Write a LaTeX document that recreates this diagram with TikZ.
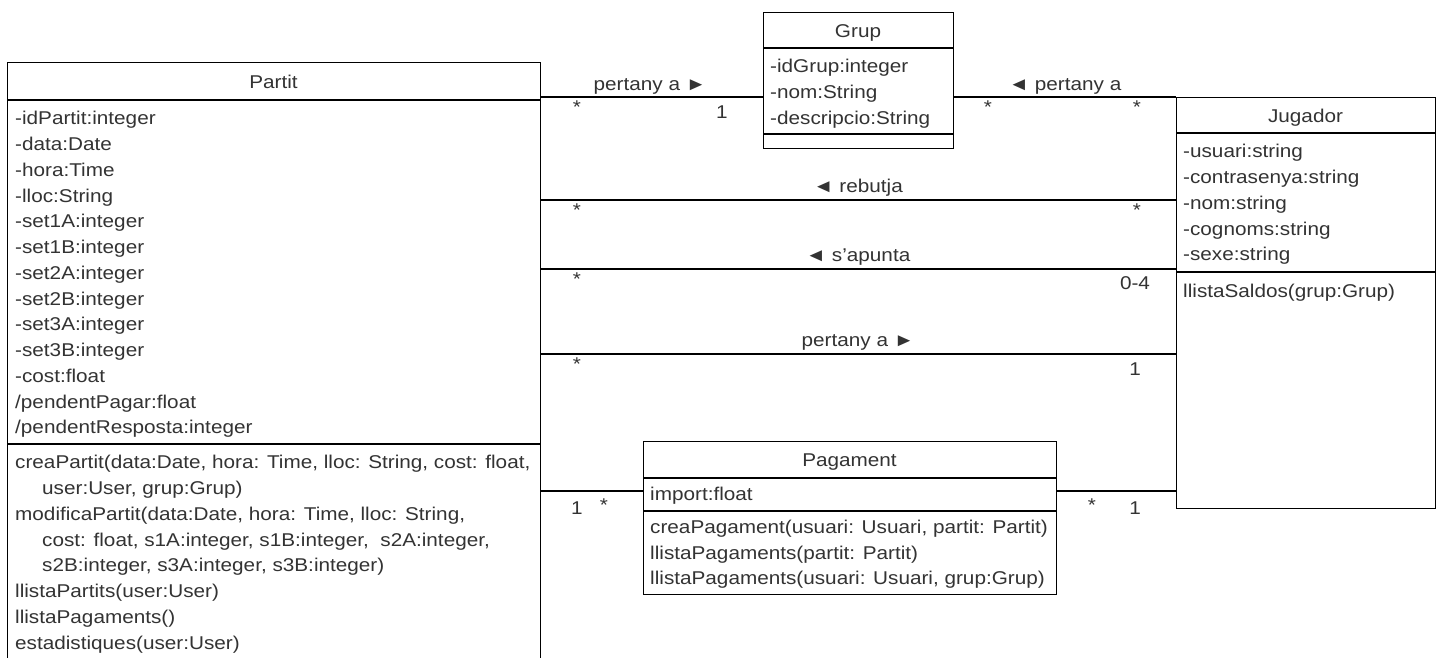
\documentclass[tikz,border=0pt]{standalone}
\usepackage{fontspec}
\setmainfont{Liberation Sans}[FakeStretch=1.12]
\begin{document}
\begin{tikzpicture}[x=1pt,y=-1pt,
  cls/.style={draw=black, line width=1.3pt, fill=white, inner sep=0pt, anchor=north west},
  sep/.style={draw=black, line width=1.3pt},
  conn/.style={draw=black, line width=1.3pt},
  txt/.style={inner sep=0pt, anchor=base west, text=black!80, font=\fontsize{18.5}{20}\selectfont},
  hdr/.style={inner sep=0pt, anchor=base, text=black!80, font=\fontsize{18.5}{20}\selectfont},
  mult/.style={inner sep=0pt, anchor=base, text=black!80, font=\fontsize{18.5}{20}\selectfont}]
\useasboundingbox (0,0) rectangle (1442,657);
\fill[white] (0,0) rectangle (1442,657);
\clip (0,0) rectangle (1442,657);

% ---------- boxes ----------
\node[cls, minimum width=533pt, minimum height=610pt] (partit) at (7,62) {};
\node[cls, minimum width=190pt, minimum height=136pt] (grup) at (763,12) {};
\node[cls, minimum width=259pt, minimum height=411pt] (jugador) at (1176,97) {};
\node[cls, minimum width=413pt, minimum height=153pt] (pagament) at (643,441) {};

% separators
\draw[sep] (partit.west |- 0,100) -- (partit.east |- 0,100);
\draw[sep] (partit.west |- 0,444) -- (partit.east |- 0,444);
\draw[sep] (grup.west |- 0,48) -- (grup.east |- 0,48);
\draw[sep] (grup.west |- 0,134) -- (grup.east |- 0,134);
\draw[sep] (jugador.west |- 0,133) -- (jugador.east |- 0,133);
\draw[sep] (jugador.west |- 0,272) -- (jugador.east |- 0,272);
\draw[sep] (pagament.west |- 0,478) -- (pagament.east |- 0,478);
\draw[sep] (pagament.west |- 0,511) -- (pagament.east |- 0,511);

% ---------- headers ----------
\node[hdr] (hpartit) at (273.5,88) {Partit};
\node[hdr] (hgrup) at (858,37) {Grup};
\node[hdr] (hjug) at (1305.5,122) {Jugador};
\node[hdr] (hpag) at (849.5,466.5) {Pagament};

% ---------- Partit ----------
\foreach \t [count=\i from 0] in {{-idPartit:integer},{-data:Date},{-hora:Time},{-lloc:String},
  {-set1A:integer},{-set1B:integer},{-set2A:integer},{-set2B:integer},{-set3A:integer},
  {-set3B:integer},{-cost:float},{/pendentPagar:float},{/pendentResposta:integer}}
  \node[txt] (pa\i) at (15,{118+25.75*\i+6.8}) {\t};
\node[txt] (pm0) at (15,{462+6.8}) {creaPartit(data:Date, hora: Time, lloc: String, cost: float,};
\node[txt] (pm1) at (42,{462+25.75+6.8}) {user:User, grup:Grup)};
\node[txt] (pm2) at (15,{462+2*25.75+6.8}) {modificaPartit(data:Date, hora: Time, lloc: String,};
\node[txt] (pm3) at (42,{462+3*25.75+6.8}) {cost: float, s1A:integer, s1B:integer, \ s2A:integer,};
\node[txt] (pm4) at (42,{462+4*25.75+6.8}) {s2B:integer, s3A:integer, s3B:integer)};
\node[txt] (pm5) at (15,{462+5*25.75+6.8}) {llistaPartits(user:User)};
\node[txt] (pm6) at (15,{462+6*25.75+6.8}) {llistaPagaments()};
\node[txt] (pm7) at (15,{462+7*25.75+6.8}) {estadistiques(user:User)};

% ---------- Grup ----------
\foreach \t [count=\i from 0] in {{-idGrup:integer},{-nom:String},{-descripcio:String}}
  \node[txt] (ga\i) at (770,{66+25.75*\i+6.8}) {\t};

% ---------- Jugador ----------
\foreach \t [count=\i from 0] in {{-usuari:string},{-contrasenya:string},{-nom:string},
  {-cognoms:string},{-sexe:string}}
  \node[txt] (ja\i) at (1183,{151+25.75*\i+6.8}) {\t};
\node[txt] (jm0) at (1183,{291+6.8}) {llistaSaldos(grup:Grup)};

% ---------- Pagament ----------
\node[txt] (qa0) at (650,{494+6.8}) {import:float};
\node[txt] (qm0) at (650,{527+6.8}) {creaPagament(usuari: Usuari, partit: Partit)};
\node[txt] (qm1) at (650,{552.5+6.8}) {llistaPagaments(partit: Partit)};
\node[txt] (qm2) at (650,{578+6.8}) {llistaPagaments(usuari: Usuari, grup:Grup)};

% ---------- connectors ----------
\draw[conn] (partit.east |- 0,97) -- (grup.west |- 0,97);
\draw[conn] (grup.east |- 0,97) -- (jugador.west |- 0,97);
\draw[conn] (partit.east |- 0,200) -- (jugador.west |- 0,200);
\draw[conn] (partit.east |- 0,269) -- (jugador.west |- 0,269);
\draw[conn] (partit.east |- 0,354) -- (jugador.west |- 0,354);
\draw[conn] (partit.east |- 0,491) -- (pagament.west |- 0,491);
\draw[conn] (pagament.east |- 0,491) -- (jugador.west |- 0,491);

% association labels
\node[mult] (l1) at (650,90) {pertany a ►};
\node[mult] (l2) at (1065,90) {◄ pertany a};
\node[mult] (l3) at (858,192) {◄ rebutja};
\node[mult] (l4) at (858,261) {◄ s'apunta};
\node[mult] (l5) at (858,346) {pertany a ►};

% multiplicities
\node[mult] (m1a) at (577,113) {*};
\node[mult] (m1b) at (722,118.5) {1};
\node[mult] (m2a) at (988,113) {*};
\node[mult] (m2b) at (1137,113) {*};
\node[mult] (m3a) at (577,216) {*};
\node[mult] (m3b) at (1137,216) {*};
\node[mult] (m4a) at (577,285) {*};
\node[mult] (m4b) at (1135,289.5) {0-4};
\node[mult] (m5a) at (577,370) {*};
\node[mult] (m5b) at (1135,375.5) {1};
\node[mult] (m6a) at (577,514.5) {1};
\node[mult] (m6b) at (604,511) {*};
\node[mult] (m7a) at (1092,511) {*};
\node[mult] (m7b) at (1135,514.5) {1};
\end{tikzpicture}
\end{document}
